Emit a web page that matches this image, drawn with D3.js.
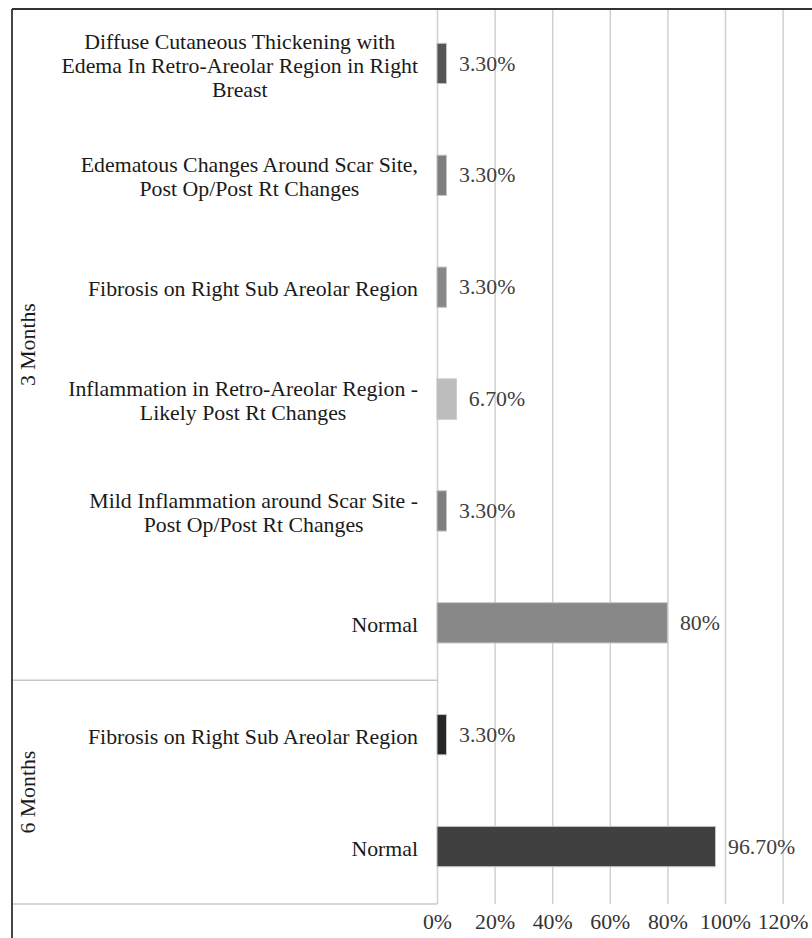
<!DOCTYPE html>
<html>
<head>
<meta charset="utf-8">
<script src="https://cdn.jsdelivr.net/npm/d3@7"></script>
<style>
  body { margin: 0; background: #fff; }
  svg, svg text { font-family: "Liberation Serif", "Times New Roman", Times, "DejaVu Serif", serif; }
</style>
</head>
<body>
<div id="chart"></div>
<script>
// categories, top to bottom (lines of each label)
const categories = [
  ["Diffuse Cutaneous Thickening with", "Edema In Retro-Areolar Region in Right", "Breast"],
  ["Edematous Changes Around Scar Site,", "Post Op/Post Rt Changes"],
  ["Fibrosis on Right Sub Areolar Region"],
  ["Inflammation in Retro-Areolar Region -", "Likely Post Rt Changes"],
  ["Mild Inflammation around Scar Site -", "Post Op/Post Rt Changes"],
  ["Normal"],
  ["Fibrosis on Right Sub Areolar Region"],
  ["Normal"]
]
const groups = ["3 Months", "3 Months", "3 Months", "3 Months", "3 Months", "3 Months", "6 Months", "6 Months"]
const values = [0.033, 0.033, 0.033, 0.067, 0.033, 0.80, 0.033, 0.967]
const valueLabels = ["3.30%", "3.30%", "3.30%", "6.70%", "3.30%", "80%", "3.30%", "96.70%"]
const barColors = ["#555555", "#7f7f7f", "#888888", "#bdbdbd", "#7f7f7f", "#888888", "#262626", "#404040"]
const ticks = [0, 0.2, 0.4, 0.6, 0.8, 1.0, 1.2]

const W = 812, H = 938
const PLOT = { LEFT: 437, RIGHT: 782.6, TOP: 9, BOTTOM: 904 }
const FONT = 21.8
const SERIF = "'Liberation Serif', 'Times New Roman', Times, 'DejaVu Serif', serif"

const svg = d3.select("#chart").append("svg")
  .attr("width", W).attr("height", H)
  .attr("font-family", SERIF)

const x = d3.scaleLinear().domain([0, 1.2]).range([PLOT.LEFT, PLOT.RIGHT])
const y = d3.scaleBand()
  .domain(d3.range(categories.length))
  .range([PLOT.TOP, PLOT.BOTTOM])
  .paddingInner(0.64)
  .paddingOuter(0.32)

// gridlines + tick labels
const xAxis = d3.axisBottom(x)
  .tickValues(ticks)
  .tickFormat(d3.format(".0%"))
  .tickSize(-(PLOT.BOTTOM - PLOT.TOP))
  .tickPadding(9.5)

const xg = svg.append("g")
  .attr("transform", `translate(0,${PLOT.BOTTOM})`)
  .call(xAxis)
  .attr("font-family", SERIF)
  .attr("font-size", FONT)
xg.select(".domain").remove()
xg.selectAll(".tick line").attr("stroke", "#d0d0d0").attr("stroke-width", 1.5)
xg.selectAll(".tick text").attr("fill", "#333")

// group separators
const step = y.step()
const groupNames = Array.from(new Set(groups))
const groupBounds = groupNames.map(g => {
  const idx = groups.map((d, i) => d === g ? i : -1).filter(i => i >= 0)
  return {
    name: g,
    y0: PLOT.TOP + d3.min(idx) * step,
    y1: PLOT.TOP + (d3.max(idx) + 1) * step
  }
})

svg.selectAll("line.sep")
  .data(groupBounds)
  .enter()
  .append("line")
  .attr("class", "sep")
  .attr("x1", 12).attr("x2", PLOT.LEFT)
  .attr("y1", d => d.y1).attr("y2", d => d.y1)
  .attr("stroke", "#c8c8c8").attr("stroke-width", 1.5)

svg.selectAll("text.group")
  .data(groupBounds)
  .enter()
  .append("text")
  .attr("class", "group")
  .attr("transform", d => `translate(35,${(d.y0 + d.y1) / 2}) rotate(-90)`)
  .attr("text-anchor", "middle")
  .attr("fill", "#1a1a1a")
  .style("font-size", FONT + "px")
  .text(d => d.name)

// bars
svg.selectAll("rect.bar")
  .data(values)
  .enter()
  .append("rect")
  .attr("class", "bar")
  .attr("x", x(0))
  .attr("y", (d, i) => y(i) - 1.5)
  .attr("width", d => x(d) - x(0))
  .attr("height", y.bandwidth())
  .attr("fill", (d, i) => barColors[i])
  .attr("stroke", "#c4c4c4")
  .attr("stroke-width", 1)

// value labels
svg.selectAll("text.val")
  .data(values)
  .enter()
  .append("text")
  .attr("class", "val")
  .attr("x", d => x(d) + 12.5)
  .attr("y", (d, i) => y(i) + y.bandwidth() / 2 - 2)
  .attr("dy", "0.35em")
  .attr("fill", "#404040")
  .style("font-size", FONT + "px")
  .text((d, i) => valueLabels[i])

// category labels
const LINE_H = 24
const catText = svg.selectAll("text.cat")
  .data(categories)
  .enter()
  .append("text")
  .attr("class", "cat")
  .attr("text-anchor", "middle")
  .attr("fill", "#1a1a1a")
  .style("font-size", FONT + "px")

catText.each(function (lines, i) {
  const el = d3.select(this)
  const cy = y(i) + y.bandwidth() / 2
  const top = cy - (lines.length - 1) * LINE_H / 2
  lines.forEach((ln, j) => {
    el.append("tspan")
      .attr("y", top + j * LINE_H)
      .attr("dy", "0.35em")
      .text(ln)
  })
  // centre the lines on the widest one, right edge near the axis
  const maxW = d3.max(el.selectAll("tspan").nodes(), n => n.getComputedTextLength())
  const cx = PLOT.LEFT - 19 - maxW / 2
  el.selectAll("tspan").attr("x", cx)
})

// outer border (top + left)
svg.append("line")
  .attr("x1", 12).attr("x2", W).attr("y1", PLOT.TOP).attr("y2", PLOT.TOP)
  .attr("stroke", "#333").attr("stroke-width", 1.8)
svg.append("line")
  .attr("x1", 12).attr("x2", 12).attr("y1", PLOT.TOP).attr("y2", H)
  .attr("stroke", "#333").attr("stroke-width", 1.8)
</script>
</body>
</html>
